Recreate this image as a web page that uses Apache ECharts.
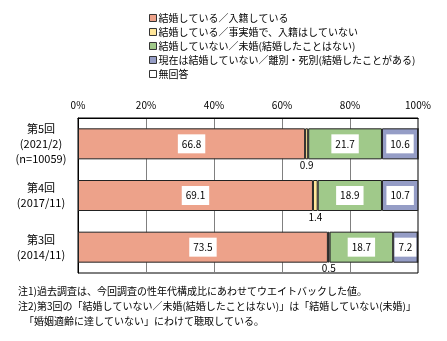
<!DOCTYPE html>
<html><head><meta charset="utf-8">
<script src="https://cdn.jsdelivr.net/npm/echarts@6/dist/echarts.min.js"></script>
<style>html,body{margin:0;padding:0;background:#fff}#c{width:447px;height:341px}</style>
</head><body><div id="c"></div>
<script>
const categories = ['第5回\n(2021/2)\n(n=10059)', '第4回\n(2017/11)', '第3回\n(2014/11)'];
const seriesNames = ['結婚している／入籍している', '結婚している／事実婚で、入籍はしていない', '結婚していない／未婚(結婚したことはない)', '現在は結婚していない／離別・死別(結婚したことがある)', '無回答'];
const registered = [66.8, 69.1, 73.5];
const commonLaw = [0.9, 1.4, 0.5];
const neverMarried = [21.7, 18.9, 18.7];
const divorcedWidowed = [10.6, 10.7, 7.2];
const noAnswer = [0, 0, 0];
const xTicks = [0, 20, 40, 60, 80, 100];
const notes = ['注1)過去調査は、今回調査の性年代構成比にあわせてウエイトバックした値。', '注2)第3回の「結婚していない／未婚(結婚したことはない)」は「結婚していない(未婚)」', '「婚姻適齢に達していない」にわけて聴取している。'];

const colors = ['#EDA28A', '#FFE699', '#A0C98A', '#959DC6', '#FFFFFF'];
const FONT = '"Noto Sans CJK JP", sans-serif';
const boxLabel = {show: true, position: 'inside', color: '#000', fontSize: 10, fontFamily: FONT, backgroundColor: '#fff', padding: [5, 4, 4, 4], formatter: p => p.value.toFixed(1)};
const dataSets = [registered, commonLaw, neverMarried, divorcedWidowed, noAnswer];
const series = dataSets.map((d, i) => ({
  name: seriesNames[i], type: 'bar', stack: 'all', barWidth: 31, data: d,
  itemStyle: {color: colors[i], borderColor: '#222', borderWidth: 1},
  label: i === 1 ? {show: true, position: 'bottom', distance: 1, color: '#000', fontSize: 10, fontFamily: FONT, formatter: p => p.value.toFixed(1)}
       : i === 4 ? {show: false} : boxLabel,
  emphasis: {disabled: true}
}));
const chart = echarts.init(document.getElementById('c'), null, {renderer: 'canvas'});
chart.setOption({
  animation: false,
  textStyle: {fontFamily: FONT},
  legend: {
    orient: 'vertical', left: 144, top: 8, itemWidth: 7, itemHeight: 7, itemGap: 4,
    icon: 'rect', textStyle: {fontSize: 10, fontFamily: FONT, color: '#000', padding: [0, 0, 0, -3]},
    itemStyle: {borderColor: '#333', borderWidth: 1},
    data: seriesNames
  },
  grid: {left: 78, right: 29, top: 118, bottom: 68, show: true, borderColor: '#000', borderWidth: 1, backgroundColor: 'transparent'},
  xAxis: {
    type: 'value', position: 'top', min: 0, max: 100, interval: 20,
    axisLine: {show: true, lineStyle: {color: '#000'}}, axisTick: {show: false},
    splitLine: {show: true, lineStyle: {color: '#808080', width: 1}},
    axisLabel: {formatter: v => xTicks.includes(v) ? v + '%' : '', color: '#000', fontSize: 10, fontFamily: FONT, margin: 8}
  },
  yAxis: {
    type: 'category', inverse: true, data: categories,
    axisLine: {show: true, lineStyle: {color: '#000'}}, axisTick: {show: false},
    axisLabel: {color: '#000', fontSize: 11, fontFamily: FONT, align: 'center', margin: 37, lineHeight: 15}
  },
  graphic: notes.map((t, i) => ({
    type: 'text', left: i === 2 ? 24 : 18, top: 286 + i * 15,
    style: {text: t, fontSize: 10, fontFamily: FONT, fill: '#000'}
  })),
  series: series
});
</script></body></html>
